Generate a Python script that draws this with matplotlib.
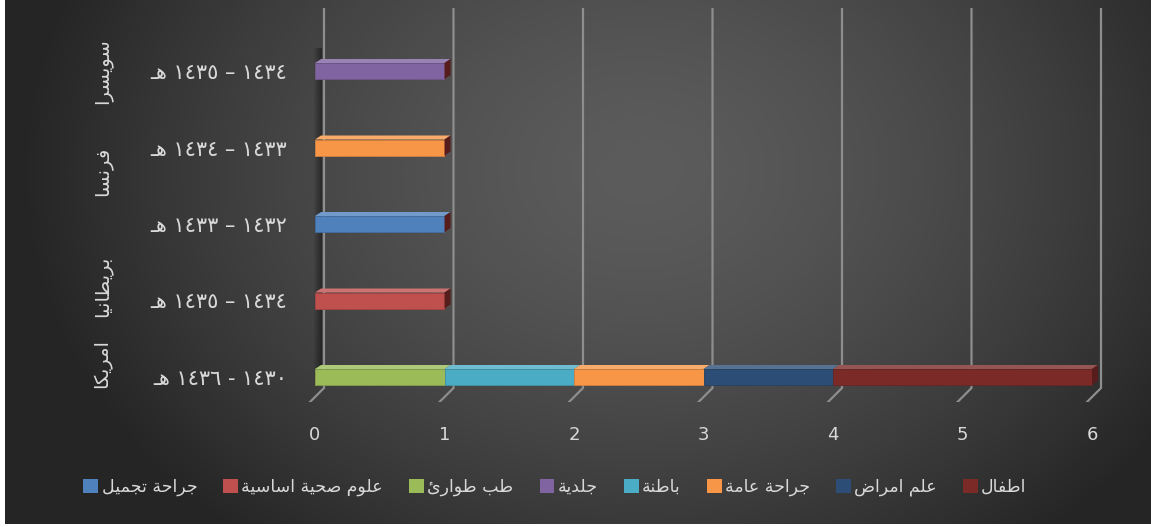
import numpy as np
import matplotlib
matplotlib.use('Agg')
import matplotlib.pyplot as plt
import matplotlib.patches as mpatches
import matplotlib.transforms as mtransforms
from matplotlib.colors import to_rgb

plt.rcParams['font.family'] = ['DejaVu Sans']

# ---- data (rows bottom -> top) ----
periods = ['١٤٣٠ - ١٤٣٦ هـ', '١٤٣٤ – ١٤٣٥ هـ', '١٤٣٢ – ١٤٣٣ هـ',
           '١٤٣٣ – ١٤٣٤ هـ', '١٤٣٤ – ١٤٣٥ هـ']
countries = ['امريكا', 'بريطانيا', 'فرنسا', 'سويسرا']
country_rows = [[0], [1], [2, 3], [4]]

# series in stacking / legend order (left -> right)
specialties = ['جراحة تجميل', 'علوم صحية اساسية', 'طب طوارئ', 'جلدية',
               'باطنة', 'جراحة عامة', 'علم امراض', 'اطفال']
colors = ['#4f81bd', '#c0504d', '#9bbb59', '#8064a2',
          '#4bacc6', '#f79646', '#2c4d75', '#7b2a28']
counts = [
    [0, 0, 1, 0, 0],   # جراحة تجميل
    [0, 1, 0, 0, 0],   # علوم صحية اساسية
    [1, 0, 0, 0, 0],   # طب طوارئ
    [0, 0, 0, 0, 1],   # جلدية
    [1, 0, 0, 0, 0],   # باطنة
    [1, 0, 0, 1, 0],   # جراحة عامة
    [1, 0, 0, 0, 0],   # علم امراض
    [2, 0, 0, 0, 0],   # اطفال
]
xticks = [0, 1, 2, 3, 4, 5, 6]

# ---- simple arabic shaping (matplotlib has no bidi / joining) ----
FORMS = {
    'ا': (0xFE8D, False), 'أ': (0xFE83, False), 'إ': (0xFE87, False), 'آ': (0xFE81, False),
    'ب': (0xFE8F, True), 'ة': (0xFE93, False), 'ت': (0xFE95, True), 'ث': (0xFE99, True),
    'ج': (0xFE9D, True), 'ح': (0xFEA1, True), 'خ': (0xFEA5, True), 'د': (0xFEA9, False),
    'ذ': (0xFEAB, False), 'ر': (0xFEAD, False), 'ز': (0xFEAF, False), 'س': (0xFEB1, True),
    'ش': (0xFEB5, True), 'ص': (0xFEB9, True), 'ض': (0xFEBD, True), 'ط': (0xFEC1, True),
    'ظ': (0xFEC5, True), 'ع': (0xFEC9, True), 'غ': (0xFECD, True), 'ف': (0xFED1, True),
    'ق': (0xFED5, True), 'ك': (0xFED9, True), 'ل': (0xFEDD, True), 'م': (0xFEE1, True),
    'ن': (0xFEE5, True), 'ه': (0xFEE9, True), 'و': (0xFEED, False), 'ى': (0xFEEF, False),
    'ي': (0xFEF1, True), 'ئ': (0xFE89, True), 'ؤ': (0xFE85, False),
}
TATWEEL = 'ـ'


def joins(ch):
    return ch in FORMS or ch == TATWEEL


def dual(ch):
    return ch == TATWEEL or (ch in FORMS and FORMS[ch][1])


def shape(text):
    out = []
    for i, ch in enumerate(text):
        if ch not in FORMS:
            out.append(ch)
            continue
        base, is_dual = FORMS[ch]
        prev = i > 0 and dual(text[i - 1])
        nxt = is_dual and i + 1 < len(text) and joins(text[i + 1])
        if prev and nxt:
            code = base + 3
        elif prev:
            code = base + 1
        elif nxt:
            code = base + 2
        else:
            code = base
        out.append(chr(code))
    s = ''.join(out)[::-1]
    # keep number runs left-to-right
    res, run = [], []
    for ch in s:
        if ch.isdigit():
            run.append(ch)
        else:
            res.extend(run[::-1]); run = []
            res.append(ch)
    res.extend(run[::-1])
    return ''.join(res)


W, H = 1151, 527
fig = plt.figure(figsize=(W / 100, H / 100), dpi=100, facecolor='white')

# background gradient (chart area leaves thin white strip left / bottom)
bg = fig.add_axes([5 / W, 3 / H, 1 - 5 / W, 1 - 3 / H], zorder=-5)
yy, xx = np.mgrid[0:H - 3, 0:W - 5]
d = np.sqrt(((xx + 5 - 640) / 620.0) ** 2 + ((yy - 170) / 480.0) ** 2)
g = (92 - 55 * np.clip(d, 0, 1) ** 1.5) / 255.0
bg.imshow(np.dstack([g, g, g]), aspect='auto', interpolation='bilinear')
bg.axis('off')

# plot area
x0_px, x6_px = 315, 1092
pxu = (x6_px - x0_px) / 6.0
xmin, xmax = -0.1, 6.2
top_px, bot_px = 8, 402
row_px = 76.5
ymin = -(bot_px - 377) / row_px
ymax = ymin + (bot_px - top_px) / row_px
left_px = x0_px + xmin * pxu
right_px = x0_px + xmax * pxu
ax = fig.add_axes([left_px / W, (H - bot_px) / H, (right_px - left_px) / W, (bot_px - top_px) / H])
ax.set_facecolor('none')
ax.set_xlim(xmin, xmax)
ax.set_ylim(ymin, ymax)
for sp in ax.spines.values():
    sp.set_visible(False)

ux = 1.0 / pxu      # one pixel in x data units
uy = 1.0 / row_px   # one pixel in y data units

# 3d-ish gridlines: back wall vertical + floor diagonal
floor_back = ymin + 14 * uy
for t in xticks:
    ax.plot([t + 9 * ux, t + 9 * ux, t - 5 * ux], [ymax, floor_back, ymin],
            color='#8e8e8e', lw=1.6, zorder=1, solid_joinstyle='miter')

# shadow of the left wall
for k in range(8):
    ax.fill_betweenx([ymin + 16 * uy, ymax - 40 * uy], (k - 1) * ux, (k + 0) * ux,
                     color='black', alpha=0.06 + 0.05 * k, lw=0, zorder=1.5)

rows = np.arange(len(periods))
bh = 16 * uy
dx, dy = 6 * ux, 4 * uy


def mix(c, other, f):
    c = np.array(to_rgb(c)); o = np.array(to_rgb(other))
    return tuple(c * (1 - f) + o * f)


left = np.zeros(len(periods))
for name, col, vals in zip(specialties, colors, counts):
    vals = np.array(vals, dtype=float)
    ax.barh(rows, vals, left=left, height=bh, color=col, edgecolor=mix(col, 'black', 0.15),
            lw=0.6, zorder=3)
    for r, (l, v) in enumerate(zip(left, vals)):
        if v <= 0:
            continue
        yt = r + bh / 2
        ax.add_patch(mpatches.Polygon([(l, yt), (l + v, yt), (l + v + dx, yt + dy), (l + dx, yt + dy)],
                                      closed=True, fc=mix(col, 'white', 0.2), ec='none', zorder=3.5))
    left = left + vals

# right side face of every row (belongs to the last series)
side_col = mix(colors[-1], 'black', 0.3)
for r, tot in enumerate(left):
    yb, yt = r - bh / 2, r + bh / 2
    ax.add_patch(mpatches.Polygon([(tot, yb), (tot, yt), (tot + dx, yt + dy), (tot + dx, yb + dy)],
                                  closed=True, fc=side_col, ec='none', zorder=3.6))

txt = '#d9d9d9'
ax.set_xticks(xticks)
ax.set_xticklabels([str(t) for t in xticks], fontsize=13, color=txt)
ax.set_yticks(rows)
ax.set_yticklabels([shape(p) for p in periods], fontsize=15, color=txt)
ax.tick_params(axis='x', length=0, pad=17)
ax.tick_params(axis='y', length=0, pad=11)

# country group labels (rotated)
tr = mtransforms.blended_transform_factory(fig.transFigure, ax.transData)
for name, grp in zip(countries, country_rows):
    yc = np.mean(grp)
    if grp[0] != len(periods) - 1:
        yc += 14 * uy
    ax.text(103 / W, yc, shape(name), transform=tr, rotation=90, ha='center', va='center',
            fontsize=14, color=txt, clip_on=False)

handles = [mpatches.Patch(facecolor=c, edgecolor='none', label=shape(s))
           for s, c in zip(specialties, colors)]
fig.legend(handles=handles, ncol=len(handles), loc='center', bbox_to_anchor=(555 / W, 40 / H),
           frameon=False, fontsize=12.5, labelcolor=txt, handlelength=0.85, handleheight=0.85,
           handletextpad=0.2, columnspacing=1.5)

fig.savefig('out.png', dpi=100, facecolor='white')
